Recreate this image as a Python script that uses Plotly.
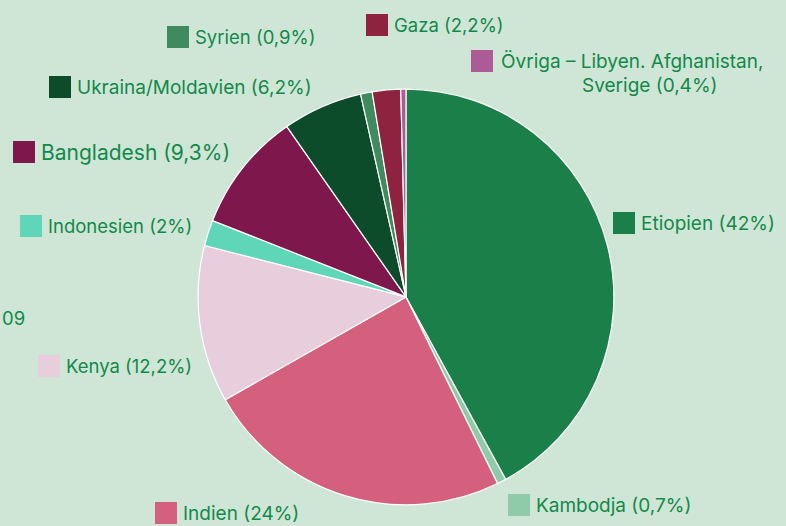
import plotly.graph_objects as go

W, H = 786, 526

# Data
countries = ["Etiopien", "Kambodja", "Indien", "Kenya", "Indonesien", "Bangladesh",
             "Ukraina/Moldavien", "Syrien", "Gaza", "Övriga – Libyen. Afghanistan, Sverige"]
shares = [42, 0.7, 24, 12.2, 2, 9.3, 6.2, 0.9, 2.2, 0.4]
colors = ["#1a7f48", "#8fcba8", "#d4607e", "#e8cddd", "#5fd6b8", "#7e184c",
          "#0d4c2a", "#3f8a5e", "#8e2340", "#ad5b96"]

BG = "#cfe6d6"
TXT = "#12894a"

# label layout: (square left px, square centre y px, font size)
label_pos = {
    "Etiopien": (613, 223, 19),
    "Kambodja": (508, 505, 19),
    "Indien": (155, 513, 19),
    "Kenya": (38, 366, 18.5),
    "Indonesien": (20, 226, 18.5),
    "Bangladesh": (13, 152, 21),
    "Ukraina/Moldavien": (49, 87, 19),
    "Syrien": (167, 37, 18.5),
    "Gaza": (366, 25, 18.5),
    "Övriga – Libyen. Afghanistan, Sverige": (471, 61, 19),
}


def px_x(x):
    return x / W


def px_y(y):
    return 1 - y / H


def fmt(v):
    return f"{v:g}".replace(".", ",")


fig = go.Figure()
fig.add_trace(go.Pie(
    labels=countries, values=shares, sort=False, direction="clockwise",
    marker=dict(colors=colors, line=dict(color="white", width=1.2)),
    textinfo="none", hoverinfo="label+percent", showlegend=False,
    domain=dict(x=[0.252, 0.781], y=[0.04, 0.831]),
))

shapes = []
annotations = []
sq = 22
for name, val, col in zip(countries, shares, colors):
    x0, yc, fs = label_pos[name]
    shapes.append(dict(type="rect", xref="paper", yref="paper",
                       x0=px_x(x0), x1=px_x(x0 + sq),
                       y0=px_y(yc + sq / 2), y1=px_y(yc - sq / 2),
                       fillcolor=col, line=dict(width=0)))
    if name.startswith("Övriga"):
        annotations.append(dict(x=px_x(x0 + sq + 6), y=px_y(yc), xref="paper", yref="paper",
                                text="Övriga – Libyen. Afghanistan,", showarrow=False,
                                xanchor="left", yanchor="middle",
                                font=dict(size=fs, color=TXT)))
        annotations.append(dict(x=px_x(649), y=px_y(yc + 25), xref="paper", yref="paper",
                                text=f"Sverige ({fmt(val)}%)", showarrow=False,
                                xanchor="center", yanchor="middle",
                                font=dict(size=fs, color=TXT)))
    else:
        annotations.append(dict(x=px_x(x0 + sq + 4), y=px_y(yc), xref="paper", yref="paper",
                                text=f"{name} ({fmt(val)}%)", showarrow=False,
                                xanchor="left", yanchor="middle",
                                font=dict(size=fs, color=TXT)))

# cropped fragment at left edge
annotations.append(dict(x=0, y=px_y(318), xref="paper", yref="paper", text="09",
                        showarrow=False, xanchor="left", yanchor="middle",
                        font=dict(size=18.5, color=TXT)))

fig.update_layout(
    width=W, height=H, margin=dict(l=0, r=0, t=0, b=0),
    paper_bgcolor=BG, plot_bgcolor=BG,
    font=dict(family="Inter, Lato, sans-serif", color=TXT),
    shapes=shapes, annotations=annotations,
)

fig.write_html("out.html", config={"displayModeBar": False},
               post_script="document.body.style.margin='0';document.body.style.overflow='hidden';")
